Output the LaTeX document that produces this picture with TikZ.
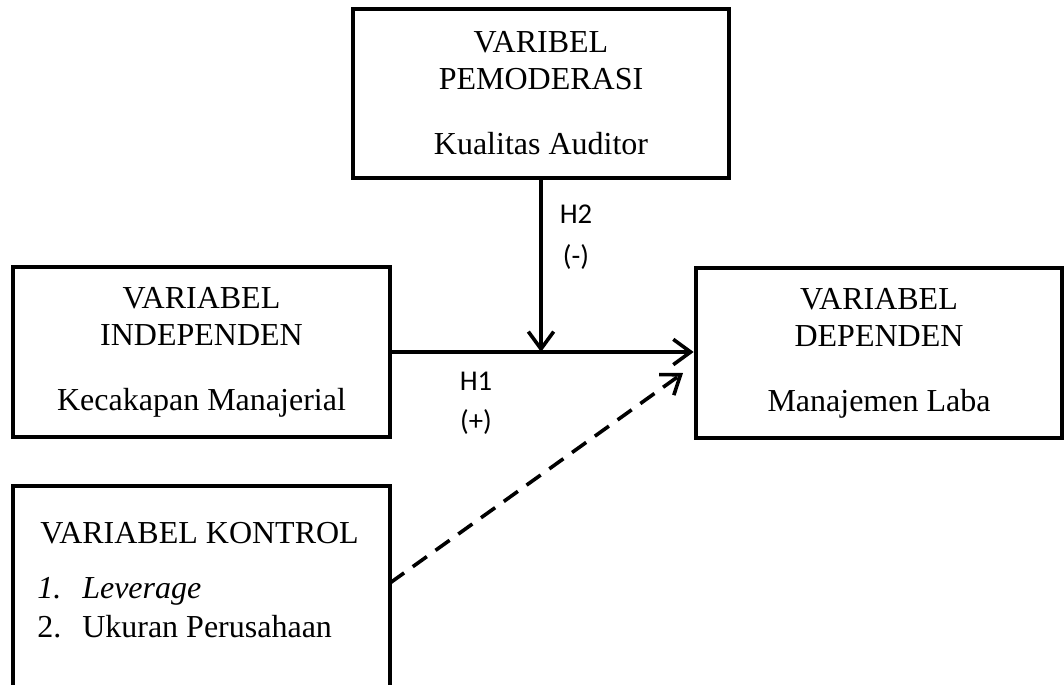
\documentclass[tikz,border=0pt]{standalone}
\usepackage{fontspec}
\setmainfont{Liberation Serif}
\newfontfamily\calibri{Carlito}
\usetikzlibrary{arrows.meta}
\begin{document}
\begin{tikzpicture}[x=0.75pt,y=-0.75pt,
  box/.style={draw,line width=3.5pt,rectangle,inner sep=0pt,align=center,
    font=\fontsize{24}{27.75}\selectfont},
  lbl/.style={font=\calibri\fontsize{21.5}{24}\selectfont,inner sep=0pt},
  txt/.style={font=\fontsize{24}{27.75}\selectfont,inner sep=0pt,anchor=base west},
  arr/.style={line width=2.7pt,-{Straight Barb[length=13pt,width=19pt,line width=2.7pt]}}]
\useasboundingbox (0,0) rectangle (1064,685);
\clip (0,0) rectangle (1064,685);
\fill[white] (0,0) rectangle (1064,685);
% boxes
\node[box,minimum width=282pt,minimum height=126.75pt] (mod) at (541,93.5)
  {VARIBEL\\PEMODERASI\\[21pt]Kualitas Auditor};
\node[box,minimum width=282.75pt,minimum height=127.5pt] (ind) at (201.5,352)
  {VARIABEL\\INDEPENDEN\\[21pt]Kecakapan Manajerial\rule[-4pt]{0pt}{1pt}};
\node[box,minimum width=274.5pt,minimum height=127.5pt] (dep) at (879,353)
  {VARIABEL\\DEPENDEN\\[21pt]Manajemen Laba\rule[-4pt]{0pt}{1pt}};
\node[box,minimum width=282.75pt,minimum height=205.5pt] (ctrl) at (201.5,623) {};
% control text
\node[txt] (kt) at (40,543) {VARIABEL KONTROL};
\node[txt] (k1n) at (37,598) {\textit{1.}};
\node[txt] (k1) at (82,598) {\textit{Leverage}};
\node[txt] (k2n) at (37,637) {2.};
\node[txt] (k2) at (82,637) {Ukuran Perusahaan};
% connectors
\coordinate (mid) at (541,352);
\coordinate (dstart) at (390,583);
\coordinate (dend) at (683,373);
\draw[arr] (ind.east |- mid) -- (dep.west |- mid);
\draw[arr] (mod.south) -- (mid);
\draw[arr,dash pattern=on 13pt off 8pt] (dstart) -- (dend);
% labels
\node[lbl] (h2) at (576,214) {H2};
\node[lbl] (h2s) at (576,257) {(-)};
\node[lbl] (h1) at (476,381) {H1};
\node[lbl] (h1s) at (476,422) {(+)};
\end{tikzpicture}
\end{document}
